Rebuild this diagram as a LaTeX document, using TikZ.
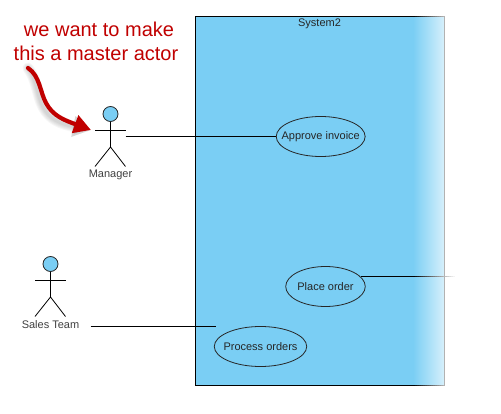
\documentclass[tikz,border=0pt]{standalone}
\usepackage{fontspec}
\setmainfont{Liberation Sans}
\usetikzlibrary{arrows.meta,shapes.geometric}
\definecolor{sysblue}{HTML}{7ACEF4}
\definecolor{notered}{HTML}{C00000}
\tikzset{
  usecase/.style={draw=black!85, line width=0.8pt, ellipse, inner ysep=0pt, minimum height=40pt, font=\fontsize{11}{13}\selectfont, text=black!85},
  limb/.style={draw=black, line width=0.8pt},
  actorhead/.style={circle, draw=black!85, fill=sysblue, line width=0.8pt, minimum size=15pt, inner sep=0pt},
  actorlabel/.style={font=\fontsize{11}{13}\selectfont, text=black!75, inner sep=0pt},
  assoc/.style={draw=black, line width=1pt},
  fadeseg/.style={line width=1pt, draw=black!#1},
  notetext/.style={font=\fontsize{20}{24}\selectfont, text=notered, inner sep=0pt},
  notearrow/.style={line width=4.2pt, draw=notered, line cap=round, -{Triangle[length=17pt,width=18pt]}},
  noteshadow/.style={line width=#1, draw=black, opacity=0.035, line cap=round, -{Triangle[length=18pt,width=20pt]}}
}
\begin{document}
\begin{tikzpicture}[x=1pt,y=-1pt]
  \useasboundingbox (0,0) rectangle (501,414);

  % System boundary
  \fill[sysblue] (195.5,16.5) rectangle (413,385.5);
  \shade[left color=sysblue, right color=sysblue!30] (413,16.5) rectangle (444.5,385.5);
  \draw[black, line width=1pt] (413,16.5) -- (195.5,16.5) -- (195.5,385.5) -- (413,385.5);
  \foreach \i in {0,...,15} {
    \pgfmathsetmacro{\shadeval}{100-70*\i/15}
    \draw[fadeseg=\shadeval] (413+2*\i,16.5) -- ++(2,0);
    \draw[fadeseg=\shadeval] (413+2*\i,385.5) -- ++(2,0);
  }
  \draw[black!30, line width=1pt] (444.5,16) -- (444.5,386);
  \node[font=\fontsize{11}{13}\selectfont, text=black!85, inner sep=0pt] (sysname) at (319.5,24) {System2};

  % Use cases
  \node[usecase, inner xsep=-7.7pt] (approve) at (320.7,136.5) {Approve invoice};
  \node[usecase, inner xsep=0pt] (place) at (325.5,286.5) {Place order};
  \node[usecase, inner xsep=-4.3pt] (process) at (260.5,346.5) {Process orders};

  % Manager
  \node[actorhead] (mgrhead) at (110.5,114) {};
  \coordinate (mgrhip) at (110.5,147);
  \draw[limb] (mgrhead) -- (mgrhip);
  \draw[limb] (95,130.5) -- (125.5,130.5);
  \draw[limb] (95,166.5) -- (mgrhip) -- (125.5,166.5);
  \node[actorlabel] (mgrlabel) at (110.5,174.5) {Manager};

  % Sales Team
  \node[actorhead] (saleshead) at (50.5,264) {};
  \coordinate (saleship) at (50.5,297);
  \draw[limb] (saleshead) -- (saleship);
  \draw[limb] (35,280.5) -- (65.5,280.5);
  \draw[limb] (35,316.5) -- (saleship) -- (65.5,316.5);
  \node[actorlabel] (saleslabel) at (50.5,324.5) {Sales Team};

  % Associations
  \coordinate (mgrend) at (125.5,136.5);
  \coordinate (salesend) at (90.5,326.5);
  \coordinate (processend) at (216,326.5);
  \coordinate (placestart) at (361,276.5);
  \coordinate (placeend) at (413,276.5);
  \draw[assoc] (mgrend) -- (approve);
  \draw[assoc] (salesend) -- (processend);
  \draw[assoc] (placestart) -- (placeend);
  \foreach \i in {0,...,21} {
    \pgfmathsetmacro{\shadeval}{100-100*\i/21}
    \draw[fadeseg=\shadeval] (413+2*\i,276.5) -- ++(2,0);
  }

  % Note
  \node[notetext] (noteone) at (99,29) {we want to make};
  \node[notetext] (notetwo) at (96,53) {this a master actor};
  \coordinate (arrowstart) at (28,68);
  \coordinate (arrowtip) at (91,130);
  \foreach \w in {3pt,5pt,7pt,9pt,11pt}
    \draw[noteshadow=\w, shift={(-3,4)}] (arrowstart) .. controls (40,76) and (40,92) .. (46,103) .. controls (53,116) and (64,120) .. (arrowtip);
  \draw[notearrow] (arrowstart) .. controls (40,76) and (40,92) .. (46,103) .. controls (53,116) and (64,120) .. (arrowtip);
\end{tikzpicture}
\end{document}
